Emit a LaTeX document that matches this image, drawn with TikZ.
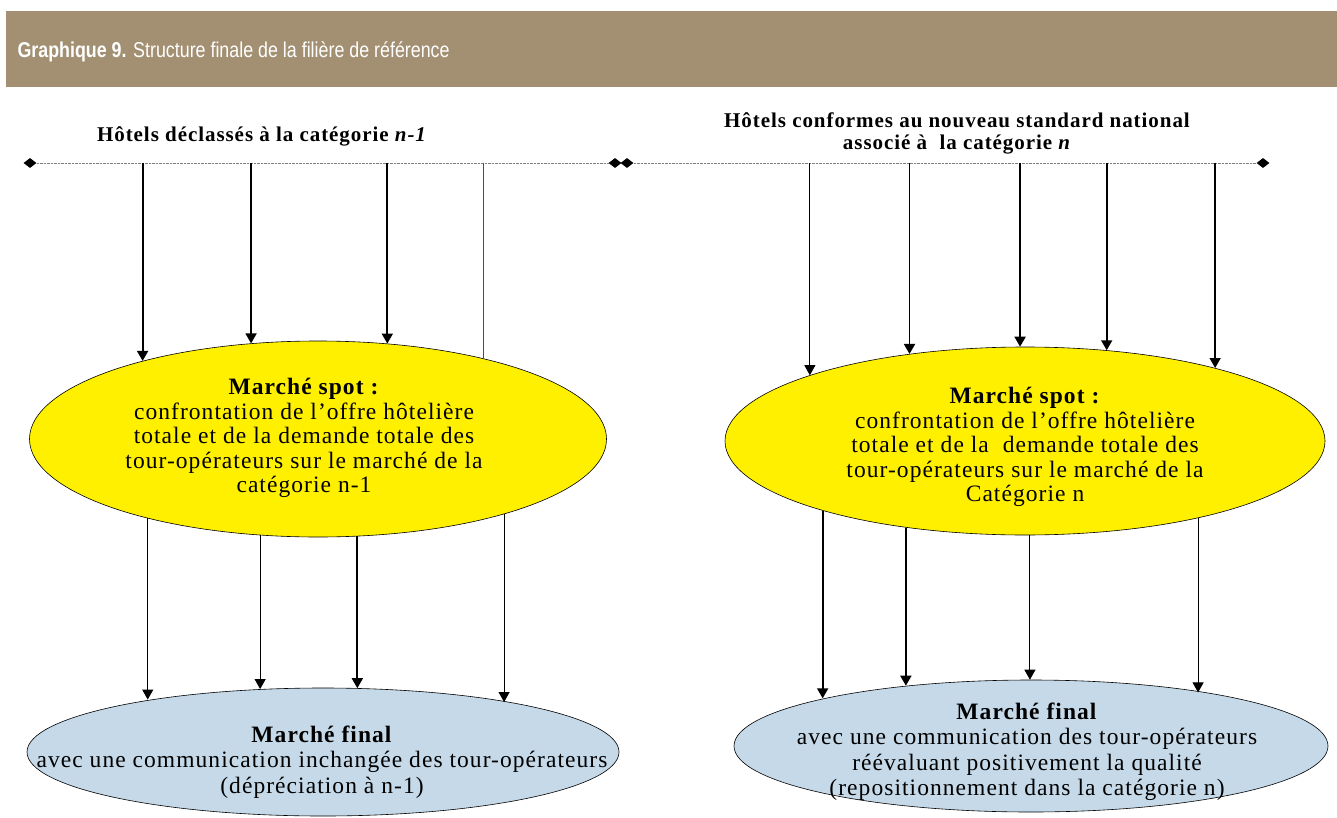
\documentclass[tikz,border=0pt]{standalone}
\usepackage{fontspec}
\setmainfont{Liberation Serif}[LetterSpace=4.5]
\setsansfont{Liberation Sans}
\usetikzlibrary{shapes.geometric}
\usetikzlibrary{arrows.meta}
\definecolor{bandeau}{RGB}{163,144,115}
\definecolor{jaune}{RGB}{255,240,0}
\definecolor{bleu}{RGB}{197,217,232}

\begin{document}
\begin{tikzpicture}[x=1pt,y=-1pt]
\def\l{10pt}
\def\w{11pt}
\def\s{23.5}
\useasboundingbox (0,0) rectangle (1337,818);
% bandeau du titre
\fill[bandeau] (6,11) rectangle (1337,87);
\node [anchor=west, text=white, font=\sffamily\fontsize{21.5}{24}\selectfont, name=titre] at (14,52) {\scalebox{0.83}[1]{\textbf{Graphique 9.} Structure finale de la filière de référence}};

% les deux lignes d'hotels
\node [diamond, fill=black, inner sep=0pt, minimum width=13pt, minimum height=10pt, name=dg1] at (30,163){};
\node [diamond, fill=black, inner sep=0pt, minimum width=13pt, minimum height=10pt, name=dg2] at (615,163){};
\node [diamond, fill=black, inner sep=0pt, minimum width=13pt, minimum height=10pt, name=dd1] at (627,163){};
\node [diamond, fill=black, inner sep=0pt, minimum width=13pt, minimum height=10pt, name=dd2] at (1263,163){};
\draw [gray, densely dotted] (dg1) -- (dg2);
\draw [gray, densely dotted] (dd1) -- (dd2);
\node [font=\bfseries\fontsize{21}{22}\selectfont, name=hg] at (262,136) {Hôtels déclassés à la catégorie \textit{n-1}};
\node [font=\bfseries\fontsize{21}{22}\selectfont, align=center, name=hd] at (957,133) {Hôtels conformes au nouveau standard national\\associé à~ la catégorie \textit{n}};

% marches spot
\node [draw, ellipse, fill=jaune, line width=0.6pt, inner sep=0pt, minimum width=577pt, minimum height=196pt, name=spotg] at (318,439){};
\node [draw, ellipse, fill=jaune, line width=0.6pt, inner sep=0pt, minimum width=600pt, minimum height=188pt, name=spotd] at (1025,441){};
\node [align=center, font=\fontsize{\s}{24.5}\selectfont, name=tspotg] at (304,438) {\textbf{Marché spot :}\\confrontation de l’offre hôtelière\\totale et de la demande totale des\\tour-opérateurs sur le marché de la\\catégorie n-1};
\node [align=center, font=\fontsize{\s}{24.5}\selectfont, name=tspotd] at (1025,447) {\textbf{Marché spot :}\\confrontation de l’offre hôtelière\\totale et de la~ demande totale des\\tour-opérateurs sur le marché de la\\Catégorie n};

% marches finals
\node [draw, ellipse, fill=bleu, line width=0.6pt, inner sep=0pt, minimum width=592pt, minimum height=128pt, name=finalg] at (323,752){};
\node [draw, ellipse, fill=bleu, line width=0.6pt, inner sep=0pt, minimum width=594pt, minimum height=132pt, name=finald] at (1031,746){};
\node [align=center, font=\fontsize{\s}{25.5}\selectfont, name=tfinalg] at (322,762) {\textbf{Marché final}\\avec une communication inchangée des tour-opérateurs\\(dépréciation à n-1)};
\node [align=center, font=\fontsize{\s}{25.5}\selectfont, name=tfinald] at (1027,752) {\textbf{Marché final}\\avec une communication des tour-opérateurs\\réévaluant positivement la qualité\\(repositionnement dans la catégorie n)};

% fleches vers le marche spot
\draw [line width=1.8pt, -{Triangle[length=\l, width=\w]}](spotg.156.35 |- dg1) -- (spotg.156.35);
\draw [line width=1.8pt, -{Triangle[length=\l, width=\w]}](spotg.125.1 |- dg1) -- (spotg.125.1);
\draw [line width=1.8pt, -{Triangle[length=\l, width=\w]}](spotg.54.9 |- dg1) -- (spotg.54.9);
\draw [line width=0.9pt, black!70](spotg.26.4 |- dg1) -- (spotg.26.4);
\draw [line width=0.9pt, -{Triangle[length=\l, width=\w]}](spotd.163 |- dd1) -- (spotd.163);
\draw [line width=1.8pt, -{Triangle[length=\l, width=\w]}](spotd.143.2 |- dd1) -- (spotd.143.2);
\draw [line width=1.8pt, -{Triangle[length=\l, width=\w]}](spotd.93.65 |- dd1) -- (spotd.93.65);
\draw [line width=1.8pt, -{Triangle[length=\l, width=\w]}](spotd.48.94 |- dd1) -- (spotd.48.94);
\draw [line width=1.4pt, -{Triangle[length=\l, width=\w]}](spotd.21.3 |- dd1) -- (spotd.21.3);

% fleches vers le marche final
\draw [line width=0.9pt, -{Triangle[length=\l, width=\w]}](spotg.205.8) -- (spotg.205.8 |- finalg.163);
\draw [line width=0.9pt, -{Triangle[length=\l, width=\w]}](spotg.239.8) -- (spotg.239.8 |- finalg.134.3);
\draw [line width=1.8pt, -{Triangle[length=\l, width=\w]}](spotg.292.9) -- (spotg.292.9 |- finalg.60.45);
\draw [line width=0.9pt, -{Triangle[length=\l, width=\w]}](spotg.338.4) -- (spotg.338.4 |- finalg.15.37);
\draw [line width=1.8pt, -{Triangle[length=\l, width=\w]}](spotd.199) -- (spotd.199 |- finald.167.2);
\draw [line width=1.8pt, -{Triangle[length=\l, width=\w]}](spotd.216.5) -- (spotd.216.5 |- finald.154);
\draw [line width=0.9pt, -{Triangle[length=\l, width=\w]}](spotd.273) -- (spotd.273 |- finald.90);
\draw [line width=0.9pt, -{Triangle[length=\l, width=\w]}](spotd.336.6) -- (spotd.336.6 |- finald.17.65);
\end{tikzpicture}
\end{document}
